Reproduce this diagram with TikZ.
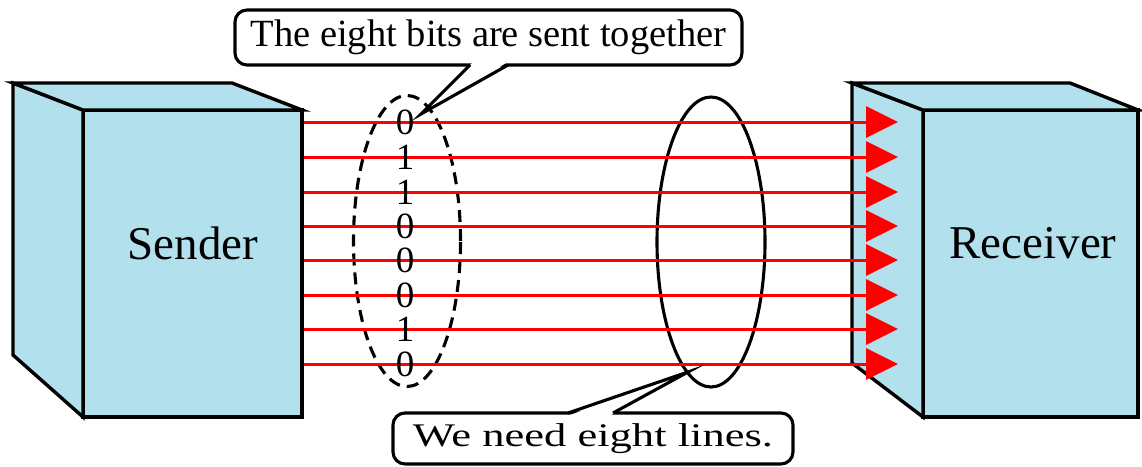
\documentclass[tikz,border=0pt]{standalone}
\usepackage{fontspec}
\setmainfont{Liberation Serif}
\usepackage{graphicx}
\usetikzlibrary{arrows.meta,shapes.geometric}
\definecolor{boxblue}{RGB}{178,224,236}
\tikzset{
  face/.style={
    draw=black,
    fill=boxblue,
    line width=3.4pt,
    line join=miter
  },
  frontface/.style={
    face,
    rectangle,
    inner sep=0pt,
    outer sep=0pt,
    minimum height=307pt
  },
  boxlabel/.style={
    inner sep=0pt,
    font=\fontsize{47}{50}\selectfont
  },
  wire/.style={
    draw=red,
    line width=3pt,
    -{Triangle[length=32pt,width=31pt]}
  },
  bit/.style={
    inner sep=0pt,
    font=\fontsize{37}{37}\selectfont
  },
  group/.style={
    ellipse,
    draw=black,
    line width=3.1pt,
    inner sep=0pt,
    minimum width=107pt,
    minimum height=291pt
  },
  bubble/.style={
    rectangle,
    rounded corners=12pt,
    draw=black,
    fill=white,
    line width=3.1pt,
    inner sep=0pt,
    outer sep=0pt
  },
  pointer/.style={
    draw=black,
    line width=3.1pt,
    line join=miter,
    miter limit=20
  }
}

\begin{document}
\begin{tikzpicture}[x=1pt,y=-1pt]
  \useasboundingbox (0,0) rectangle (1142,466);

  \node[frontface, minimum width=219pt] (sender) at (192.5,263.5) {};
  \draw[face] (13,83) -- (sender.north west) -- (sender.south west) -- (13,355) -- cycle;
  \draw[face] (13,83) -- (232,83) -- (sender.north east) -- (sender.north west) -- cycle;
  \node[boxlabel] (sendertext) at (193,243) {Sender};

  \node[frontface, minimum width=215pt] (receiver) at (1030.5,263.5) {};
  \draw[face] (852,83) -- (receiver.north west) -- (receiver.south west) -- (852,363) -- cycle;
  \draw[face] (852,83) -- (1070,83) -- (receiver.north east) -- (receiver.north west) -- cycle;
  \node[boxlabel] (receivertext) at (1033,243) {Receiver};

  \node[group, dash pattern=on 12pt off 7pt] (bits) at (407,241) {};
  \node[group, minimum width=108pt, minimum height=290pt] (lines) at (711,242) {};

  \foreach \y in {122,157,192,226,260,295,329,364}
    \draw[wire, shorten <=1.7pt] (sender.east |- 0,\y) -- ([xshift=-25pt]receiver.west |- 0,\y);

  \foreach \y/\b [count=\i] in {122/0,157/1,192/1,226/0,260/0,295/0,329/1,364/0}
    \node[bit] (bit\i) at (405,\y) {\b};

  \node[bubble, minimum width=507pt, minimum height=55pt] (together) at (488.5,37.5)
    {\fontsize{38.5}{40}\selectfont The eight bits are sent together};
  \coordinate (togethertip) at (421,114);
  \fill[white] ([xshift=-16.5pt,yshift=2pt]together.south) -- (togethertip) -- ([xshift=17.5pt,yshift=2pt]together.south) -- cycle;
  \draw[pointer] ([xshift=-18.5pt]together.south) -- (togethertip) -- ([xshift=19.5pt]together.south);

  \node[bubble, minimum width=400pt, minimum height=51pt] (eight) at (593,438.5)
    {\fontsize{33}{36}\selectfont\scalebox{1.35}[1]{We need eight lines.}};
  \coordinate (eighttip) at (688,372);
  \fill[white] ([xshift=-23pt,yshift=-2pt]eight.north) -- (eighttip) -- ([xshift=18pt,yshift=-2pt]eight.north) -- cycle;
  \draw[pointer] ([xshift=-25pt]eight.north) -- (eighttip) -- ([xshift=20pt]eight.north);
\end{tikzpicture}
\end{document}
